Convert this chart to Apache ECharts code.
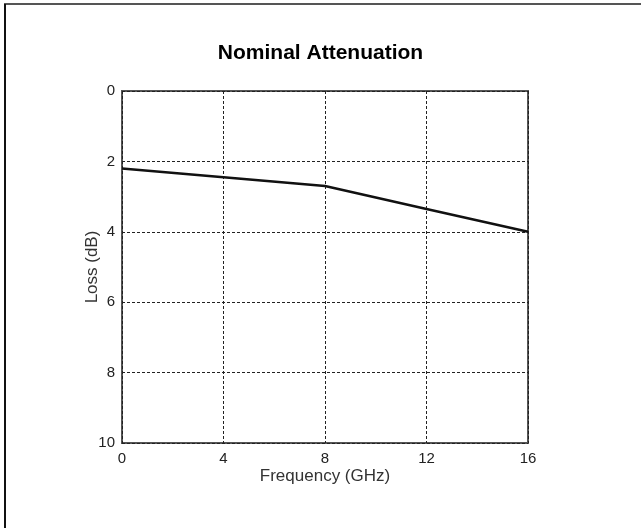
<!DOCTYPE html>
<html>
<head>
<meta charset="utf-8">
<script src="https://cdn.jsdelivr.net/npm/echarts@6/dist/echarts.min.js"></script>
<style>
  html, body { margin: 0; padding: 0; background: #fff; }
  #chart { width: 641px; height: 528px; }
</style>
</head>
<body>
<div id="chart"></div>
<script>
// 频率 (GHz) 与损耗 (dB)
const freqGHz = [0, 4, 8, 12, 16]
const lossDb = [2.2, 2.45, 2.7, 3.35, 4.0]
const xTicks = [0, 4, 8, 12, 16]
const yTicks = [0, 2, 4, 6, 8, 10]

const chart = echarts.init(document.getElementById('chart'))

const option = {
  animation: false,
  backgroundColor: '#fff',
  title: {
    text: 'Nominal Attenuation',
    left: 'center',
    top: 38,
    textStyle: {
      fontFamily: 'Liberation Sans',
      fontSize: 21,
      fontWeight: 'bold',
      color: '#000'
    }
  },
  grid: {
    left: 122,
    right: 113,
    top: 91,
    bottom: 85,
    show: true,
    borderColor: '#555',
    borderWidth: 2,
    backgroundColor: 'transparent'
  },
  xAxis: {
    type: 'value',
    min: xTicks[0],
    max: xTicks[xTicks.length - 1],
    interval: 4,
    name: 'Frequency (GHz)',
    nameLocation: 'middle',
    nameGap: 25,
    nameMoveOverlap: false,
    nameTextStyle: { fontFamily: 'Liberation Sans', fontSize: 17, color: '#333', verticalAlign: 'top' },
    axisLine: { show: false },
    axisTick: { show: false },
    axisLabel: { fontFamily: 'Liberation Sans', fontSize: 15, color: '#222', margin: 8 },
    splitLine: { lineStyle: { type: [3, 2], color: '#222', width: 1 } }
  },
  yAxis: {
    type: 'value',
    inverse: true,
    min: yTicks[0],
    max: yTicks[yTicks.length - 1],
    interval: 2,
    name: 'Loss (dB)',
    nameLocation: 'middle',
    nameGap: 21,
    nameMoveOverlap: false,
    nameTextStyle: { fontFamily: 'Liberation Sans', fontSize: 17, color: '#333' },
    axisLine: { show: false },
    axisTick: { show: false },
    axisLabel: { fontFamily: 'Liberation Sans', fontSize: 15, color: '#222', margin: 7 },
    splitLine: { lineStyle: { type: [3, 2], color: '#222', width: 1 } }
  },
  series: [
    {
      type: 'line',
      data: freqGHz.map((f, i) => [f, lossDb[i]]),
      showSymbol: false,
      lineStyle: { color: '#111', width: 2.5 }
    }
  ],
  graphic: [
    // 外框：上边和左边
    { type: 'line', shape: { x1: 4, y1: 4, x2: 641, y2: 4 }, style: { stroke: '#555', lineWidth: 2 } },
    { type: 'line', shape: { x1: 5, y1: 4, x2: 5, y2: 528 }, style: { stroke: '#111', lineWidth: 2 } }
  ]
}

chart.setOption(option)
</script>
</body>
</html>
